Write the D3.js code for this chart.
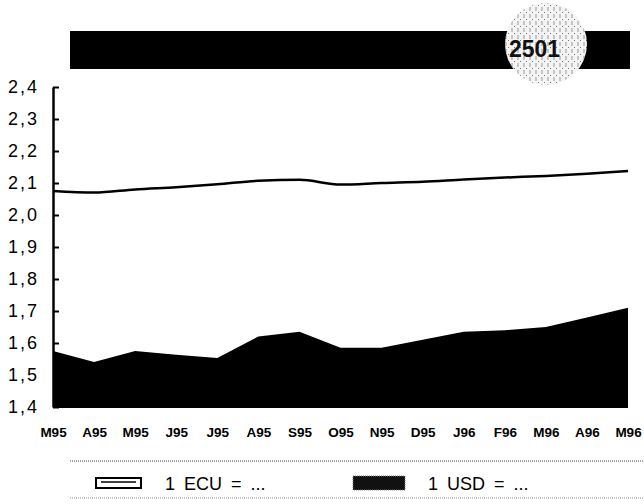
<!DOCTYPE html>
<html>
<head>
<meta charset="utf-8">
<script src="https://cdn.jsdelivr.net/npm/d3@7"></script>
<style>
  body { margin: 0; background: #fff; }
  svg { display: block; font-family: "Liberation Sans", Arial, Helvetica, sans-serif; }
</style>
</head>
<body>
<div id="chart"></div>
<script>
'use strict';

// data
var months = ['M95', 'A95', 'M95', 'J95', 'J95', 'A95', 'S95', 'O95', 'N95', 'D95', 'J96', 'F96', 'M96', 'A96', 'M96'];
var ecu = [2.075, 2.07, 2.08, 2.087, 2.096, 2.107, 2.11, 2.095, 2.1, 2.104, 2.111, 2.117, 2.122, 2.129, 2.1375];
var usd = [1.575, 1.541, 1.575, 1.563, 1.553, 1.62, 1.635, 1.585, 1.585, 1.61, 1.635, 1.64, 1.65, 1.68, 1.71];
var yTicks = [1.4, 1.5, 1.6, 1.7, 1.8, 1.9, 2.0, 2.1, 2.2, 2.3, 2.4];
var legendLabels = ['1 ECU = ...', '1 USD = ...'];

var width = 644;
var height = 504;

var svg = d3.select('#chart')
  .append('svg')
  .attr('width', width)
  .attr('height', height);

var x = d3.scaleLinear()
  .domain([0, months.length - 1])
  .range([53, 628]);

var y = d3.scaleLinear()
  .domain([1.4, 2.4])
  .range([407, 87]);

var locale = d3.formatLocale({decimal: ',', thousands: '.', grouping: [3], currency: ['', '']});
var fmt = locale.format('.1f');

/* header bar with badge */
var defs = svg.append('defs');
var pat = defs.append('pattern')
  .attr('id', 'grain')
  .attr('width', 6)
  .attr('height', 7)
  .attr('patternUnits', 'userSpaceOnUse');
pat.append('rect').attr('width', 6).attr('height', 7).attr('fill', '#f4f4f4');
pat.append('line').attr('x1', 2).attr('x2', 2).attr('y1', 0).attr('y2', 4)
  .attr('stroke', '#999').attr('stroke-width', 1);
pat.append('rect').attr('x', 4).attr('y', 5).attr('width', 1).attr('height', 1).attr('fill', '#777');

svg.append('rect')
  .attr('x', 70)
  .attr('y', 31)
  .attr('width', 560)
  .attr('height', 38)
  .attr('fill', '#000');

svg.append('circle')
  .attr('cx', 546)
  .attr('cy', 44)
  .attr('r', 41)
  .attr('fill', 'url(#grain)');

svg.append('text')
  .attr('x', 509)
  .attr('y', 57)
  .attr('font-size', 23)
  .attr('font-weight', 'bold')
  .attr('fill', '#111')
  .text('2501');

/* USD area */
var area = d3.area()
  .x(function(d, i) { return x(i); })
  .y0(y(1.4) + 1)
  .y1(function(d) { return y(d); });

svg.append('path')
  .datum(usd)
  .attr('d', area)
  .attr('fill', '#000');

/* ECU line */
var line = d3.line()
  .x(function(d, i) { return x(i); })
  .y(function(d) { return y(d); })
  .curve(d3.curveMonotoneX);

svg.append('path')
  .datum(ecu)
  .attr('d', line)
  .attr('fill', 'none')
  .attr('stroke', '#000')
  .attr('stroke-width', 2.5);

/* y axis */
var yAxis = svg.append('g')
  .attr('transform', 'translate(' + x(0) + ',0)')
  .call(d3.axisLeft(y)
    .tickValues(yTicks)
    .tickFormat(fmt)
    .tickSizeInner(-6)
    .tickSizeOuter(0)
    .tickPadding(14));
yAxis.select('.domain').attr('stroke-width', 2.5);
yAxis.selectAll('.tick line').attr('stroke-width', 2);
yAxis.selectAll('.tick text')
  .attr('font-size', 18)
  .attr('letter-spacing', 2)
  .attr('font-family', '"Liberation Sans", Arial, sans-serif')
  .attr('fill', '#000');

/* x axis */
var xAxis = svg.append('g')
  .attr('transform', 'translate(0,' + 423 + ')')
  .call(d3.axisBottom(x)
    .tickValues(d3.range(months.length))
    .tickFormat(function(i) { return months[i]; })
    .tickSize(0)
    .tickPadding(4));
xAxis.select('.domain').remove();
xAxis.selectAll('.tick text')
  .attr('font-size', 13.5)
  .attr('font-weight', 'bold')
  .attr('font-family', '"Liberation Sans", Arial, sans-serif')
  .attr('fill', '#000');

/* legend */
svg.append('line')
  .attr('x1', 70).attr('x2', 644)
  .attr('y1', 461).attr('y2', 461)
  .attr('stroke', '#444')
  .attr('stroke-width', 1)
  .attr('stroke-dasharray', '1,1');
svg.append('line')
  .attr('x1', 70).attr('x2', 644)
  .attr('y1', 498).attr('y2', 498)
  .attr('stroke', '#888')
  .attr('stroke-width', 1)
  .attr('stroke-dasharray', '1,1');

svg.append('rect')
  .attr('x', 96).attr('y', 478)
  .attr('width', 45).attr('height', 10)
  .attr('fill', '#fff')
  .attr('stroke', '#000')
  .attr('stroke-width', 2);
svg.append('line')
  .attr('x1', 101).attr('x2', 136)
  .attr('y1', 482).attr('y2', 482)
  .attr('stroke', '#000')
  .attr('stroke-width', 1.5);

svg.append('rect')
  .attr('x', 353).attr('y', 476)
  .attr('width', 52).attr('height', 14)
  .attr('fill', '#111')
  .attr('stroke', '#777')
  .attr('stroke-width', 1)
  .attr('stroke-dasharray', '1,1');

var legendX = [165, 428];
svg.selectAll('.legend-label')
  .data(legendLabels)
  .enter()
  .append('text')
  .attr('class', 'legend-label')
  .attr('x', function(d, i) { return legendX[i]; })
  .attr('y', 490)
  .attr('font-size', 18)
  .attr('word-spacing', 4)
  .attr('fill', '#000')
  .text(function(d) { return d; });
</script>
</body>
</html>
